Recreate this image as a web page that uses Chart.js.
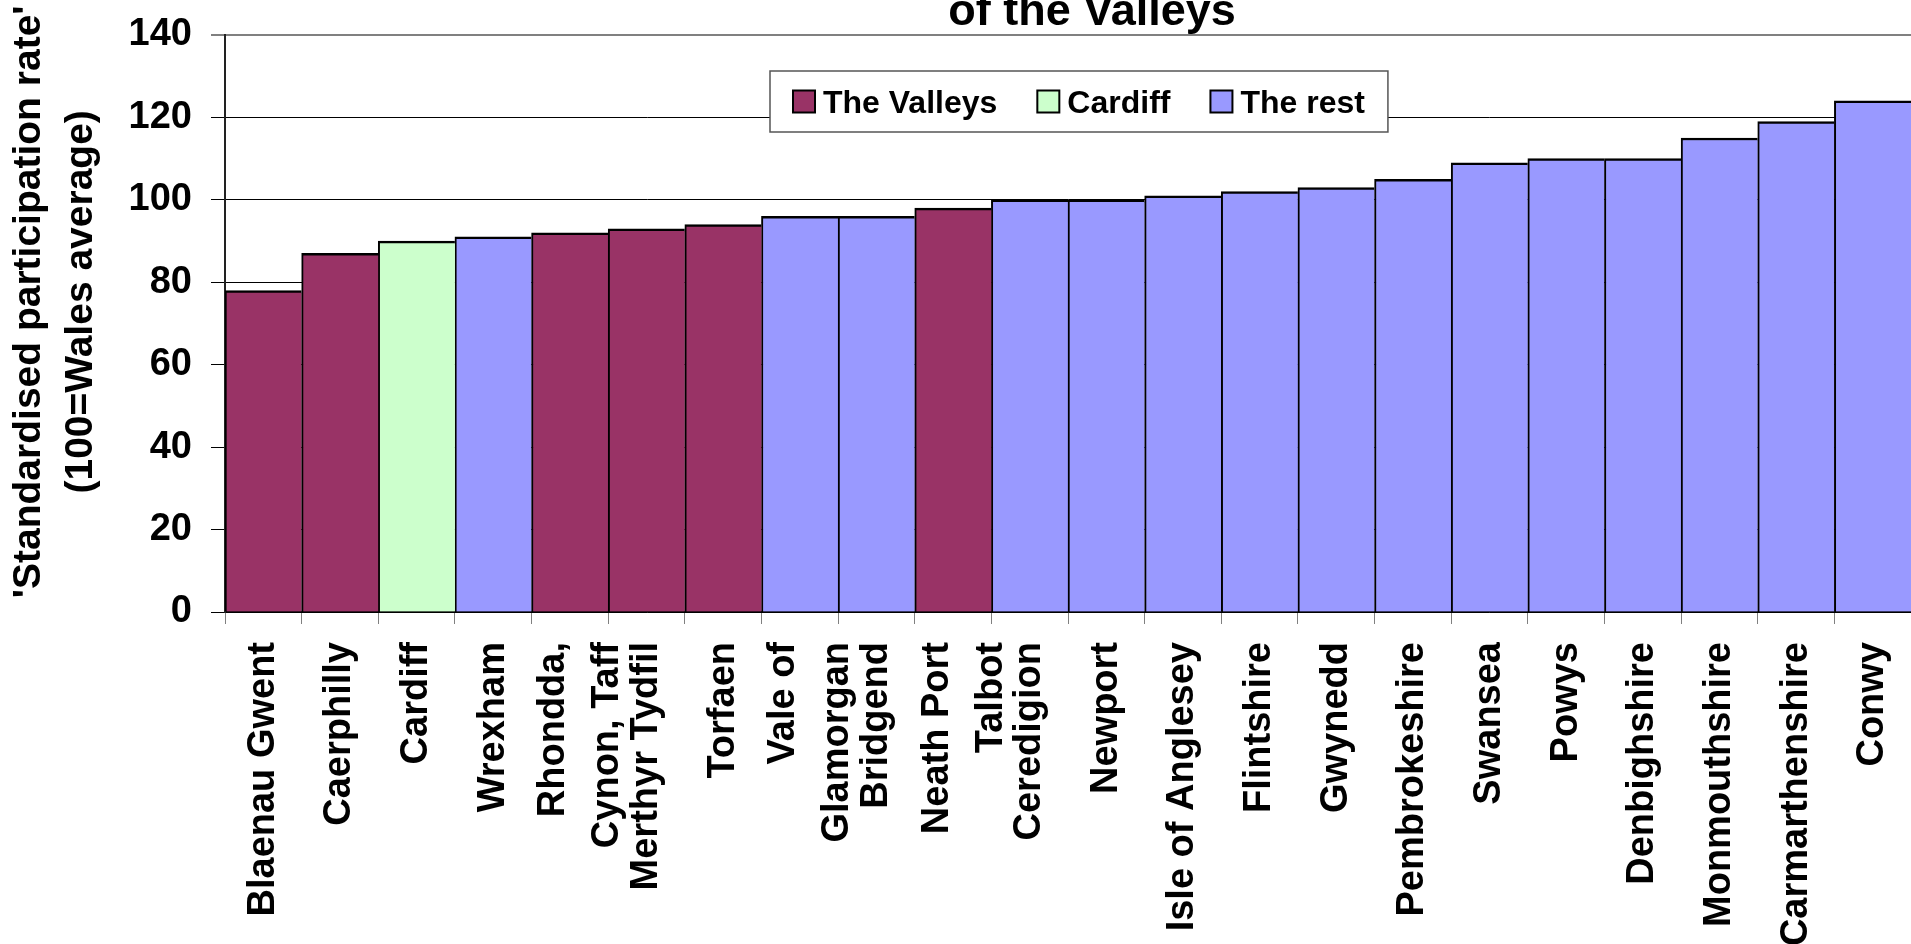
<!DOCTYPE html>
<html>
<head>
<meta charset="utf-8">
<title>Standardised participation rate</title>
<script src="https://cdn.jsdelivr.net/npm/chart.js@4.4.1/dist/chart.umd.min.js"></script>
<style>
    html, body { margin: 0; padding: 0; background: #ffffff; }
    #wrap { width: 1911px; height: 944px; }
</style>
</head>
<body>

<div id="wrap">
    <canvas id="rateChart"></canvas>
</div>

<script>

// data
const areas = [
    'Blaenau Gwent', 'Caerphilly', 'Cardiff', 'Wrexham',
    ['Rhondda,', 'Cynon, Taff'], 'Merthyr Tydfil', 'Torfaen',
    ['Vale of', 'Glamorgan'], 'Bridgend', ['Neath Port', 'Talbot'],
    'Ceredigion', 'Newport', 'Isle of Anglesey', 'Flintshire',
    'Gwynedd', 'Pembrokeshire', 'Swansea', 'Powys',
    'Denbighshire', 'Monmouthshire', 'Carmarthenshire', 'Conwy'
];

const rates = [
    78, 87, 90, 91,
    92, 93, 94,
    96, 96, 98,
    100, 100, 101, 102,
    103, 105, 109, 110,
    110, 115, 119, 124
];

// 0 = The Valleys, 1 = Cardiff, 2 = The rest
const areaGroup = [
    0, 0, 1, 2,
    0, 0, 0,
    2, 2, 0,
    2, 2, 2, 2,
    2, 2, 2, 2,
    2, 2, 2, 2
];

const groupNames = ['The Valleys', 'Cardiff', 'The rest'];
const groupColours = ['#993366', '#CCFFCC', '#9999FF'];

const yTicks = [0, 20, 40, 60, 80, 100, 120, 140];

const chartTitle = 'of the Valleys';
const yTitle = ["'Standardised participation rate'", '(100=Wales average)'];

const FONT = "'Liberation Sans', Arial, sans-serif";


const datasets = groupNames.map((name, g) => ({
    label: name,
    data: rates.map((v, i) => areaGroup[i] === g ? v : null),
    backgroundColor: groupColours[g],
    borderColor: '#000000',
    borderWidth: { top: 2.5, left: 2, right: 0, bottom: 0 },
    borderSkipped: false,
    barPercentage: 1,
    categoryPercentage: 1
}));


// two-line area names sit as a block (a touch right of) the bar centre
const centreWrappedLabels = {
    id: 'centreWrappedLabels',
    beforeDraw(chart) {
        chart.scales.x.getLabelItems().forEach(item => {
            if (Array.isArray(item.label) && item.label.length > 1 && !item.centred) {
                item.textOffset -= (item.label.length - 1) * item.font.lineHeight / 2 - 11;
                item.centred = true;
            }
        });
    }
};


// title (only its last line is inside the picture) and the boxed legend
const titleAndKey = {
    id: 'titleAndKey',
    afterDraw(chart) {

        const ctx = chart.ctx;
        ctx.save();

        ctx.fillStyle = '#000000';
        ctx.font = 'bold 45px ' + FONT;
        ctx.textAlign = 'center';
        ctx.textBaseline = 'alphabetic';
        ctx.fillText(chartTitle, 1092, 25);

        ctx.font = 'bold 32px ' + FONT;
        const items = chart.data.datasets;
        const widths = items.map(d => ctx.measureText(d.label).width);

        const swatch = 22, gap = 8, between = 40, pad = 23;
        let boxW = pad * 2;
        widths.forEach((w, i) => {
            boxW += swatch + gap + w + (i > 0 ? between : 0);
        });

        const boxX = 770, boxY = 71, boxH = 61;

        ctx.fillStyle = '#ffffff';
        ctx.fillRect(boxX, boxY, boxW, boxH);
        ctx.strokeStyle = '#555555';
        ctx.lineWidth = 1.5;
        ctx.strokeRect(boxX, boxY, boxW, boxH);

        let x = boxX + pad;
        const midY = boxY + boxH / 2;

        items.forEach((d, i) => {
            ctx.fillStyle = d.backgroundColor;
            ctx.fillRect(x, midY - swatch / 2, swatch, swatch);
            ctx.strokeStyle = '#000000';
            ctx.lineWidth = 2;
            ctx.strokeRect(x, midY - swatch / 2, swatch, swatch);

            ctx.fillStyle = '#000000';
            ctx.textAlign = 'left';
            ctx.fillText(d.label, x + swatch + gap, midY + swatch / 2);

            x += swatch + gap + widths[i] + between;
        });

        ctx.restore();
    }
};


new Chart(document.getElementById('rateChart'), {

    type: 'bar',

    data: {
        labels: areas,
        datasets: datasets
    },

    plugins: [centreWrappedLabels, titleAndKey],

    options: {

        responsive: true,
        maintainAspectRatio: false,
        animation: false,

        layout: {
            padding: { top: 35, left: 0, right: 0, bottom: 0 }
        },

        plugins: {
            legend: { display: false },
            title: { display: false },
            tooltip: { enabled: false }
        },

        scales: {

            x: {
                stacked: true,
                offset: true,
                grid: {
                    offset: true,
                    drawOnChartArea: false,
                    drawTicks: true,
                    tickLength: 12,
                    color: '#808080'
                },
                border: {
                    color: '#000000',
                    width: 1.5
                },
                ticks: {
                    autoSkip: false,
                    minRotation: 90,
                    maxRotation: 90,
                    padding: 18,
                    color: '#000000',
                    font: {
                        family: FONT,
                        size: 38,
                        weight: 'bold',
                        lineHeight: 1.42
                    }
                },
                afterFit(scale) {
                    scale.height = 332;
                    scale.paddingLeft = 0;
                    scale.paddingRight = 0;
                }
            },

            y: {
                stacked: true,
                min: yTicks[0],
                max: yTicks[yTicks.length - 1],
                grid: {
                    color: c => c.tick && c.tick.value === 140 ? '#808080' : '#000000',
                    lineWidth: c => c.tick && c.tick.value === 140 ? 2 : 1,
                    tickLength: 14
                },
                border: {
                    color: '#222222',
                    width: 2
                },
                ticks: {
                    stepSize: yTicks[1] - yTicks[0],
                    padding: 19,
                    color: '#000000',
                    font: {
                        family: FONT,
                        size: 38,
                        weight: 'bold'
                    }
                },
                title: {
                    display: true,
                    // leading spaces lift the centred title a little, as in the original
                    text: yTitle.map(t => '    ' + t),
                    color: '#000000',
                    padding: { top: 4, bottom: 0 },
                    font: {
                        family: FONT,
                        size: 39,
                        weight: 'bold',
                        lineHeight: 1.32
                    }
                },
                afterFit(scale) {
                    scale.width = 225;
                    scale.paddingTop = 0;
                    scale.paddingBottom = 0;
                }
            }
        }
    }
});

</script>
</body>
</html>
